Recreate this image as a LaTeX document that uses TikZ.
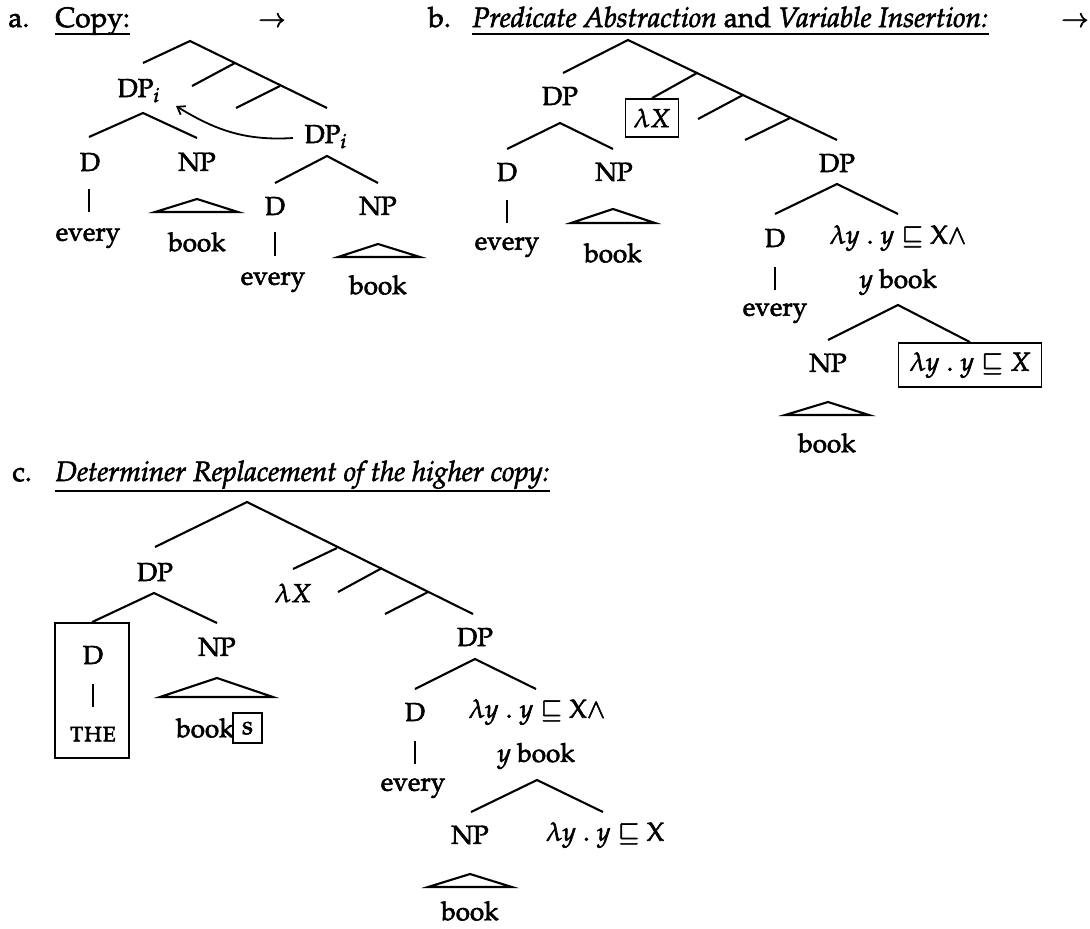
\documentclass[tikz,border=0pt]{standalone}
\usepackage[T1]{fontenc}
\usepackage{mathpazo}
\usetikzlibrary{arrows.meta}
\newcommand{\treefont}{\fontsize{13}{15}\selectfont}
\newcommand{\titlefont}{\fontsize{14}{16}\selectfont}
\newcommand{\heavy}{\special{pdf:literal direct 2 Tr 0.3 w}}
\begin{document}
\begin{tikzpicture}[x=0.5pt,y=-0.5pt,
  lbl/.style={inner sep=0pt,font=\treefont\heavy},
  ttl/.style={inner sep=0pt,font=\titlefont\heavy,anchor=base west},
  edge/.style={line width=1.05pt},
  uline/.style={line width=0.9pt},
  boxed/.style={draw,line width=0.9pt,inner sep=0pt,font=\treefont\heavy},
  mv/.style={line width=0.9pt,-{Straight Barb[length=3.5pt,width=5pt]}}]
\useasboundingbox (0,0) rectangle (1090,928);

% ---------------- panel a ----------------
\node[ttl] (alab) at (8,27) {a.};
\node[ttl] (atit) at (55,27) {Copy:};
\draw[uline] ([yshift=-3.5pt]atit.base west) -- ([yshift=-3.5pt]atit.base east);
\node[lbl] (aarr) at (272,22) {$\rightarrow$};

\coordinate (a0) at (190,41);
\coordinate (a0l) at (143,63);
\coordinate (a0r) at (327,108);
\coordinate (ab1) at (235,63);
\coordinate (ab1e) at (192,86);
\coordinate (ab2) at (280,86);
\coordinate (ab2e) at (236,108);
\draw[edge] (a0l) -- (a0) -- (a0r);
\draw[edge] (ab1) -- (ab1e);
\draw[edge] (ab2) -- (ab2e);

\node[lbl,anchor=base] (aDP1) at (139,97) {DP$_i$};
\coordinate (aq1) at (143,113);
\coordinate (aq1l) at (89,137);
\coordinate (aq1r) at (197,138);
\draw[edge] (aq1l) -- (aq1) -- (aq1r);
\node[lbl] (aD1) at (90,162) {D};
\node[lbl] (aNP1) at (197,162) {NP};
\coordinate (av1t) at (89,189);
\coordinate (av1b) at (89,212);
\draw[edge] (av1t) -- (av1b);
\node[lbl] (aev1) at (88,238) {every};
\coordinate (at1a) at (197,199);
\coordinate (at1l) at (155,212);
\coordinate (at1r) at (238,212);
\draw[edge] (at1l) -- (at1a) -- (at1r) -- cycle;
\node[lbl] (abk1) at (197,242) {book};

\node[lbl,anchor=base] (aDP2) at (326,143) {DP$_i$};
\coordinate (aq2) at (327,156);
\coordinate (aq2l) at (275,183);
\coordinate (aq2r) at (378,183);
\draw[edge] (aq2l) -- (aq2) -- (aq2r);
\node[lbl] (aD2) at (275,206) {D};
\node[lbl] (aNP2) at (378,206) {NP};
\coordinate (av2t) at (275,232);
\coordinate (av2b) at (275,256);
\draw[edge] (av2t) -- (av2b);
\node[lbl] (aev2) at (273,282) {every};
\coordinate (at2a) at (378,244);
\coordinate (at2l) at (338,257);
\coordinate (at2r) at (420,257);
\draw[edge] (at2l) -- (at2a) -- (at2r) -- cycle;
\node[lbl] (abk2) at (378,285) {book};

\coordinate (amvs) at (293,138);
\coordinate (amve) at (176,106);
\draw[mv] (amvs) .. controls (245,141) and (215,130) .. (amve);

% ---------------- panel b ----------------
\node[ttl] (blab) at (428,27) {b.};
\node[ttl] (btit) at (472,27) {\textit{Predicate Abstraction} and \textit{Variable Insertion:}};
\draw[uline] ([yshift=-3.5pt]btit.base west) -- ([yshift=-3.5pt]btit.base east);
\node[lbl] (barr) at (1075,22) {$\rightarrow$};

\coordinate (b0) at (628,40);
\coordinate (b0l) at (563,73);
\coordinate (b0r) at (837,140);
\coordinate (bb1) at (697,73);
\coordinate (bb2) at (743,95);
\coordinate (bb2e) at (698,119);
\coordinate (bb3) at (790,118);
\coordinate (bb3e) at (745,140);
\draw[edge] (b0l) -- (b0) -- (b0r);
\node[boxed,minimum width=26.5pt,minimum height=19pt] (blx) at (652,118) {$\lambda X$};
\draw[edge] (bb1) -- (blx.north);
\draw[edge] (bb2) -- (bb2e);
\draw[edge] (bb3) -- (bb3e);

\node[lbl] (bDP1) at (560,96) {DP};
\coordinate (bq1) at (560,123);
\coordinate (bq1l) at (507,149);
\coordinate (bq1r) at (613,149);
\draw[edge] (bq1l) -- (bq1) -- (bq1r);
\node[lbl] (bD1) at (507,172) {D};
\node[lbl] (bNP1) at (614,172) {NP};
\coordinate (bv1t) at (507,200);
\coordinate (bv1b) at (507,223);
\draw[edge] (bv1t) -- (bv1b);
\node[lbl] (bev1) at (507,247) {every};
\coordinate (bt1a) at (613,209);
\coordinate (bt1l) at (571,223);
\coordinate (bt1r) at (655,223);
\draw[edge] (bt1l) -- (bt1a) -- (bt1r) -- cycle;
\node[lbl] (bbk1) at (613,253) {book};

\node[lbl] (bDP2) at (837,163) {DP};
\coordinate (bq2) at (837,184);
\coordinate (bq2l) at (775,214);
\coordinate (bq2r) at (898,214);
\draw[edge] (bq2l) -- (bq2) -- (bq2r);
\node[lbl] (bD2) at (775,238) {D};
\node[lbl] (bla1) at (898,238) {$\lambda y\;.\;y\sqsubseteq\mathrm{X}\wedge$};
\node[lbl] (byb) at (898,282) {$y$ book};
\coordinate (bv2t) at (775,267);
\coordinate (bv2b) at (775,290);
\draw[edge] (bv2t) -- (bv2b);
\node[lbl] (bev2) at (775,313) {every};
\coordinate (bq3) at (898,305);
\coordinate (bq3l) at (828,340);
\node[boxed,minimum width=71.5pt,minimum height=22pt] (bla2) at (970,365) {$\lambda y\;.\;y\sqsubseteq X$};
\draw[edge] (bq3l) -- (bq3) -- (bla2.north);
\node[lbl] (bNP2) at (828,363) {NP};
\coordinate (bt2a) at (828,402);
\coordinate (bt2l) at (785,415);
\coordinate (bt2r) at (869,415);
\draw[edge] (bt2l) -- (bt2a) -- (bt2r) -- cycle;
\node[lbl] (bbk2) at (827,443) {book};

% ---------------- panel c ----------------
\node[ttl] (clab) at (12,481) {c.};
\node[ttl] (ctit) at (55,481) {\textit{Determiner Replacement of the higher copy:}};
\draw[uline] ([yshift=-5pt]ctit.base west) -- ([yshift=-5pt]ctit.base east);

\coordinate (c0) at (247,502);
\coordinate (c0l) at (155,547);
\coordinate (c0r) at (473,614);
\coordinate (cb1) at (337,548);
\coordinate (cb1e) at (293,569);
\coordinate (cb2) at (382,568);
\coordinate (cb2e) at (338,592);
\coordinate (cb3) at (428,592);
\coordinate (cb3e) at (385,614);
\draw[edge] (c0l) -- (c0) -- (c0r);
\draw[edge] (cb1) -- (cb1e);
\draw[edge] (cb2) -- (cb2e);
\draw[edge] (cb3) -- (cb3e);
\node[lbl] (clx) at (293,593) {$\lambda X$};

\node[lbl] (cDP1) at (155,572) {DP};
\coordinate (cq1) at (154,593);
\coordinate (cq1r) at (217,623);
\node[draw,line width=0.9pt,minimum width=37pt,minimum height=67.5pt,inner sep=0pt] (cbox) at (92,690.5) {};
\draw[edge] (cbox.north) -- (cq1) -- (cq1r);
\node[lbl] (cD1) at (93,655) {D};
\coordinate (cv1t) at (93,684);
\coordinate (cv1b) at (93,707);
\draw[edge] (cv1t) -- (cv1b);
\node[lbl] (cthe) at (93,734) {\textsc{the}};
\node[lbl] (cNP1) at (217,647) {NP};
\coordinate (ct1a) at (217,678);
\coordinate (ct1l) at (160,697);
\coordinate (ct1r) at (273,697);
\draw[edge] (ct1l) -- (ct1a) -- (ct1r) -- cycle;
\node[lbl,anchor=east] (cbk1) at (234,728) {book};
\node[boxed,minimum width=14.5pt,minimum height=15pt] (cs) at (247.5,728) {s};

\node[lbl] (cDP2) at (475,637) {DP};
\coordinate (cq2) at (475,659);
\coordinate (cq2l) at (415,689);
\coordinate (cq2r) at (536,689);
\draw[edge] (cq2l) -- (cq2) -- (cq2r);
\node[lbl] (cD2) at (415,712) {D};
\node[lbl] (cla1) at (537,712) {$\lambda y\;.\;y\sqsubseteq\mathrm{X}\wedge$};
\node[lbl] (cyb) at (536,756) {$y$ book};
\coordinate (cv2t) at (415,741);
\coordinate (cv2b) at (415,764);
\draw[edge] (cv2t) -- (cv2b);
\node[lbl] (cev2) at (413,788) {every};
\coordinate (cq3) at (537,780);
\coordinate (cq3l) at (471,812);
\coordinate (cq3r) at (603,812);
\draw[edge] (cq3l) -- (cq3) -- (cq3r);
\node[lbl] (cNP2) at (470,835) {NP};
\node[lbl] (cla2) at (605,835) {$\lambda y\;.\;y\sqsubseteq\mathrm{X}$};
\coordinate (ct2a) at (470,874);
\coordinate (ct2l) at (428,887);
\coordinate (ct2r) at (512,887);
\draw[edge] (ct2l) -- (ct2a) -- (ct2r) -- cycle;
\node[lbl] (cbk2) at (470,911) {book};
\end{tikzpicture}
\end{document}
